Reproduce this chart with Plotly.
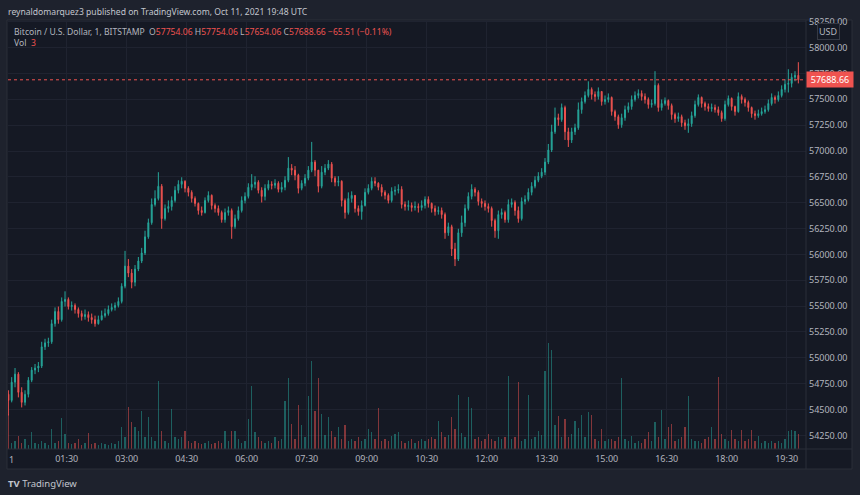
import pandas as pd
import plotly.graph_objects as go

# ---- data (5-minute candles) ----
first_open = 54647
closes = [54588, 54764, 54842, 54666, 54569, 54647, 54783, 54881, 54901, 54920,
          55106, 55145, 55155, 55330, 55448, 55369, 55545, 55565, 55496, 55506,
          55467, 55428, 55399, 55418, 55389, 55369, 55330, 55369, 55408, 55428,
          55467, 55487, 55506, 55545, 55692, 55887, 55819, 55731, 55858, 55936,
          56014, 56170, 56307, 56483, 56541, 56659, 56346, 56444, 56463, 56522,
          56620, 56678, 56707, 56639, 56600, 56541, 56493, 56424, 56405, 56522,
          56571, 56473, 56444, 56405, 56336, 56405, 56424, 56268, 56346, 56424,
          56522, 56561, 56649, 56678, 56698, 56620, 56561, 56639, 56678, 56668,
          56688, 56629, 56649, 56717, 56834, 56815, 56766, 56639, 56688, 56737,
          56815, 56893, 56815, 56659, 56795, 56834, 56873, 56737, 56698, 56707,
          56522, 56405, 56541, 56571, 56444, 56414, 56473, 56600, 56639, 56707,
          56688, 56649, 56600, 56571, 56522, 56610, 56620, 56629, 56483, 56463,
          56473, 56453, 56463, 56453, 56473, 56532, 56493, 56444, 56414, 56424,
          56385, 56209, 56268, 56053, 55955, 56209, 56307, 56444, 56561, 56629,
          56600, 56512, 56493, 56463, 56444, 56327, 56229, 56385, 56405, 56336,
          56483, 56502, 56424, 56346, 56512, 56532, 56600, 56659, 56717, 56756,
          56795, 56893, 57010, 57186, 57322, 57303, 57420, 57186, 57107, 57186,
          57225, 57400, 57478, 57537, 57596, 57547, 57527, 57576, 57478, 57498,
          57518, 57381, 57332, 57254, 57322, 57400, 57430, 57498, 57537, 57557,
          57527, 57498, 57449, 57459, 57635, 57420, 57459, 57488, 57439, 57352,
          57313, 57332, 57273, 57244, 57264, 57342, 57449, 57518, 57459, 57430,
          57410, 57420, 57400, 57371, 57313, 57449, 57508, 57430, 57381, 57527,
          57498, 57469, 57420, 57361, 57342, 57361, 57381, 57400, 57459, 57518,
          57498, 57537, 57596, 57645, 57654, 57713, 57732, 57688.66]

highs = [54686, 54813, 54901, 54861, 54715, 54686, 54813, 54910, 54940, 54959,
         55155, 55184, 55194, 55369, 55487, 55496, 55584, 55643, 55584, 55545,
         55526, 55487, 55457, 55467, 55448, 55428, 55408, 55408, 55457, 55477,
         55506, 55526, 55535, 55584, 55721, 56034, 55955, 55858, 55897, 55975,
         56063, 56229, 56346, 56541, 56620, 56795, 56680, 56483, 56522, 56561,
         56659, 56717, 56746, 56717, 56659, 56620, 56561, 56502, 56463, 56551,
         56610, 56580, 56493, 56473, 56424, 56444, 56463, 56444, 56385, 56463,
         56561, 56600, 56688, 56776, 56756, 56717, 56649, 56678, 56717, 56707,
         56727, 56707, 56698, 56756, 56941, 56873, 56854, 56780, 56717, 56776,
         56854, 57088, 56912, 56815, 56854, 56873, 56912, 56893, 56756, 56756,
         56717, 56541, 56600, 56610, 56571, 56473, 56522, 56639, 56678, 56746,
         56746, 56698, 56678, 56620, 56590, 56649, 56659, 56678, 56659, 56512,
         56522, 56502, 56512, 56493, 56522, 56561, 56561, 56502, 56473, 56463,
         56453, 56405, 56307, 56287, 56112, 56248, 56375, 56483, 56600, 56678,
         56649, 56620, 56541, 56522, 56493, 56463, 56346, 56424, 56444, 56424,
         56532, 56541, 56522, 56463, 56551, 56571, 56639, 56698, 56756, 56795,
         56834, 56932, 57068, 57254, 57420, 57361, 57459, 57439, 57225, 57225,
         57264, 57469, 57517, 57576, 57674, 57615, 57576, 57615, 57576, 57537,
         57557, 57527, 57400, 57352, 57361, 57439, 57469, 57537, 57576, 57596,
         57586, 57557, 57518, 57498, 57772, 57654, 57498, 57518, 57498, 57459,
         57371, 57371, 57352, 57303, 57313, 57381, 57488, 57547, 57527, 57478,
         57459, 57459, 57449, 57430, 57391, 57488, 57537, 57518, 57439, 57566,
         57547, 57518, 57488, 57430, 57391, 57400, 57420, 57439, 57498, 57557,
         57537, 57576, 57635, 57694, 57791, 57752, 57772, 57859]

lows = [54442, 54569, 54715, 54617, 54520, 54539, 54617, 54764, 54842, 54861,
        54901, 55076, 55106, 55135, 55301, 55330, 55350, 55496, 55467, 55457,
        55428, 55389, 55360, 55369, 55350, 55330, 55301, 55321, 55360, 55389,
        55408, 55448, 55457, 55487, 55526, 55672, 55780, 55672, 55692, 55838,
        55916, 55994, 56151, 56287, 56463, 56522, 56248, 56327, 56405, 56424,
        56502, 56590, 56639, 56600, 56561, 56502, 56463, 56385, 56375, 56395,
        56502, 56434, 56405, 56375, 56307, 56307, 56375, 56151, 56248, 56327,
        56405, 56493, 56541, 56620, 56639, 56590, 56502, 56522, 56620, 56629,
        56639, 56600, 56600, 56620, 56698, 56766, 56717, 56590, 56620, 56659,
        56717, 56795, 56756, 56600, 56639, 56766, 56815, 56698, 56659, 56659,
        56463, 56346, 56385, 56502, 56405, 56375, 56336, 56463, 56580, 56620,
        56659, 56620, 56561, 56532, 56493, 56502, 56571, 56590, 56444, 56424,
        56424, 56414, 56424, 56405, 56424, 56444, 56453, 56405, 56375, 56385,
        56346, 56151, 56180, 55985, 55887, 55936, 56170, 56268, 56424, 56532,
        56561, 56473, 56453, 56424, 56405, 56268, 56161, 56151, 56346, 56307,
        56307, 56453, 56375, 56307, 56327, 56483, 56512, 56571, 56639, 56698,
        56737, 56766, 56873, 56990, 57166, 57244, 57283, 57107, 57039, 57078,
        57156, 57205, 57361, 57459, 57518, 57498, 57478, 57498, 57439, 57449,
        57469, 57342, 57293, 57215, 57225, 57293, 57371, 57400, 57478, 57508,
        57488, 57459, 57410, 57420, 57439, 57381, 57391, 57439, 57400, 57303,
        57273, 57283, 57234, 57205, 57176, 57234, 57322, 57430, 57420, 57391,
        57381, 57381, 57371, 57342, 57283, 57293, 57430, 57391, 57342, 57371,
        57459, 57430, 57381, 57322, 57303, 57322, 57342, 57361, 57381, 57439,
        57459, 57478, 57518, 57566, 57566, 57615, 57674, 57654]

volumes = [17.5, 3, 4, 6.5, 3, 5, 2, 8.5, 3, 2.5,
           4, 3, 2, 10, 3, 4, 15.5, 7.5, 3, 2.5,
           3, 5, 2, 3, 8, 2.5, 3, 2, 3, 2.5,
           2, 3, 2.5, 4, 11, 6, 21, 13.5, 11, 9,
           19, 6, 16, 6, 4, 34, 9, 4, 3, 20,
           6, 5, 6, 9, 4, 3, 4, 3, 2.5, 3,
           4, 2.5, 3, 4, 3, 9, 4, 9, 9, 5,
           3, 4, 15, 31.5, 8.5, 6, 4, 3, 4, 3,
           6, 4, 5, 24, 35.5, 12.5, 5, 22, 12, 6,
           26.5, 44, 19, 35.5, 17.5, 7, 16, 9, 6, 11,
           5, 12, 4, 5, 4, 6, 4, 5, 10, 8.5,
           5, 20.5, 4, 5, 4, 6.5, 7.5, 8.5, 4, 3,
           4, 5, 3, 4, 5, 4, 5, 6, 5, 14,
           8.5, 6, 7, 16, 10, 27, 8, 6, 26, 20.5,
           5, 6, 4, 5, 7.5, 5, 4, 6, 5, 6,
           36.5, 5, 6, 33.5, 4, 5, 27, 5, 6, 9,
           7, 39, 53, 49.5, 12, 16.5, 6, 15, 6, 7.5,
           14, 10.5, 17, 6, 18.5, 17, 5, 4, 10, 4,
           5, 5, 4, 6, 35.5, 5, 4, 6.5, 3, 4,
           3, 5, 8.5, 4, 13.5, 6, 19.5, 5, 11, 12.5,
           4, 5, 6, 11, 26.5, 5, 4, 4, 3, 5,
           6, 11, 5, 36, 7.5, 5, 4, 9.5, 5, 4,
           9.5, 4, 5, 9.5, 4, 6.5, 3, 4, 3, 4,
           3, 4, 3, 5, 9, 9.5, 9, 7.5]

# ---- styling ----
UP = "#26a69a"
DOWN = "#ef5350"
UP_V = "rgba(38,166,154,0.5)"
DOWN_V = "rgba(239,83,80,0.5)"
OUTER = "#1e222d"
PANEL = "#151924"
GRID = "#1f2330"
BORDER = "#2a2e39"
TXT = "#b2b5be"
FONT = "Noto Sans"

times = pd.date_range("2021-10-11 00:02:30", periods=len(closes), freq="5min")
opens = [first_open] + closes[:-1]
vol_colors = [UP_V if c >= o else DOWN_V for o, c in zip(opens, closes)]

fig = go.Figure()
fig.add_trace(go.Bar(
    x=times, y=volumes, yaxis="y2", marker=dict(color=vol_colors, line=dict(width=0)),
    width=2.2 * 60 * 1000, hoverinfo="skip", showlegend=False))
fig.add_trace(go.Candlestick(
    x=times, open=opens, high=highs, low=lows, close=closes,
    increasing=dict(line=dict(color=UP, width=1), fillcolor=UP),
    decreasing=dict(line=dict(color=DOWN, width=1), fillcolor=DOWN),
    whiskerwidth=0, hoverinfo="skip", showlegend=False))

W, H = 860, 495
L, R, T, B = 8, 54, 20, 46
pw, ph = W - L - R, H - T - B


def px(xp):
    return (xp - L) / pw


def py(yp):
    return (H - B - yp) / ph


fig.update_layout(
    width=W, height=H,
    margin=dict(l=L, r=R, t=T, b=B, autoexpand=False),
    paper_bgcolor=OUTER, plot_bgcolor=PANEL,
    font=dict(family=FONT, size=9, color=TXT),
    bargap=0, boxgap=0.6,
    xaxis=dict(
        type="date",
        range=["2021-10-11 00:01:57", "2021-10-11 19:59:00"],
        tick0="2021-10-11 00:00", dtick=90 * 60 * 1000, tickformat="%H:%M",
        showgrid=True, gridcolor=GRID, gridwidth=1, zeroline=False,
        showline=False, ticks="", tickfont=dict(size=9, color=TXT),
        ticklabelstandoff=3,
        rangeslider=dict(visible=False), fixedrange=True),
    yaxis=dict(
        side="right", range=[54118, 58267], tick0=0, dtick=250,
        tickformat=".2f", showgrid=True, gridcolor=GRID, gridwidth=1,
        zeroline=False, showline=False, ticks="",
        tickfont=dict(size=9, color=TXT), ticklabelstandoff=2, fixedrange=True),
    yaxis2=dict(overlaying="y", range=[0, 214.5], visible=False, fixedrange=True),
)

shapes = [
    dict(type="rect", xref="paper", yref="paper", x0=px(7), x1=px(852), y0=py(469), y1=py(20),
         fillcolor=PANEL, line=dict(color=BORDER, width=1), layer="below"),
    dict(type="line", xref="paper", yref="paper", x0=1, x1=1, y0=py(469), y1=py(20),
         line=dict(color=BORDER, width=1)),
    dict(type="line", xref="paper", yref="paper", x0=px(7), x1=px(852), y0=0, y1=0,
         line=dict(color=BORDER, width=1)),
    dict(type="line", xref="paper", yref="y", x0=0, x1=1, y0=closes[-1], y1=closes[-1],
         line=dict(color=DOWN, width=1, dash="dot")),
]
fig.update_layout(shapes=shapes)

legend_txt = (
    f"Bitcoin / U.S. Dollar, 1, BITSTAMP&nbsp;&nbsp;"
    f"O<span style='color:{DOWN}'>57754.06</span> "
    f"H<span style='color:{DOWN}'>57754.06</span> "
    f"L<span style='color:{DOWN}'>57654.06</span> "
    f"C<span style='color:{DOWN}'>57688.66</span> "
    f"<span style='color:{DOWN}'>−65.51 (−0.11%)</span>"
)
annotations = [
    dict(xref="paper", yref="paper", x=px(6), y=py(12), xanchor="left", yanchor="middle",
         text="reynaldomarquez3 published on TradingView.com, Oct 11, 2021 19:48 UTC",
         showarrow=False, font=dict(size=8.6, color="#c3c6ce")),
    dict(xref="paper", yref="paper", x=px(12), y=py(32), xanchor="left", yanchor="middle",
         text=legend_txt, showarrow=False, font=dict(size=8.6, color=TXT)),
    dict(xref="paper", yref="paper", x=px(12), y=py(43), xanchor="left", yanchor="middle",
         text=f"Vol&nbsp;&nbsp;<span style='color:{DOWN}'>3</span>", showarrow=False,
         font=dict(size=8.6, color=TXT)),
    dict(xref="paper", yref="y", x=1, y=closes[-1], xanchor="left", yanchor="middle",
         text="57688.66", showarrow=False, bgcolor=DOWN, width=44, align="center",
         borderpad=1, font=dict(size=9, color="#ffffff")),
    dict(xref="paper", yref="paper", x=px(828), y=py(31), xanchor="center", yanchor="middle",
         text="USD", showarrow=False, bgcolor=PANEL, bordercolor="#363a45", borderwidth=1,
         borderpad=1, font=dict(size=9, color=TXT)),
    dict(xref="paper", yref="paper", x=px(7), y=py(459), xanchor="left", yanchor="middle",
         text="1", showarrow=False, font=dict(size=9, color=TXT)),
    dict(xref="paper", yref="paper", x=px(6), y=py(483), xanchor="left", yanchor="middle",
         text="<b>TV</b> TradingView", showarrow=False, font=dict(size=9.5, color="#c3c6ce")),
]
fig.update_layout(annotations=annotations)

fig.write_html(
    "out.html",
    config={"displayModeBar": False, "staticPlot": True},
    post_script="document.body.style.margin='0';document.body.style.background='#1e222d';"
                "document.body.style.overflow='hidden';",
)
